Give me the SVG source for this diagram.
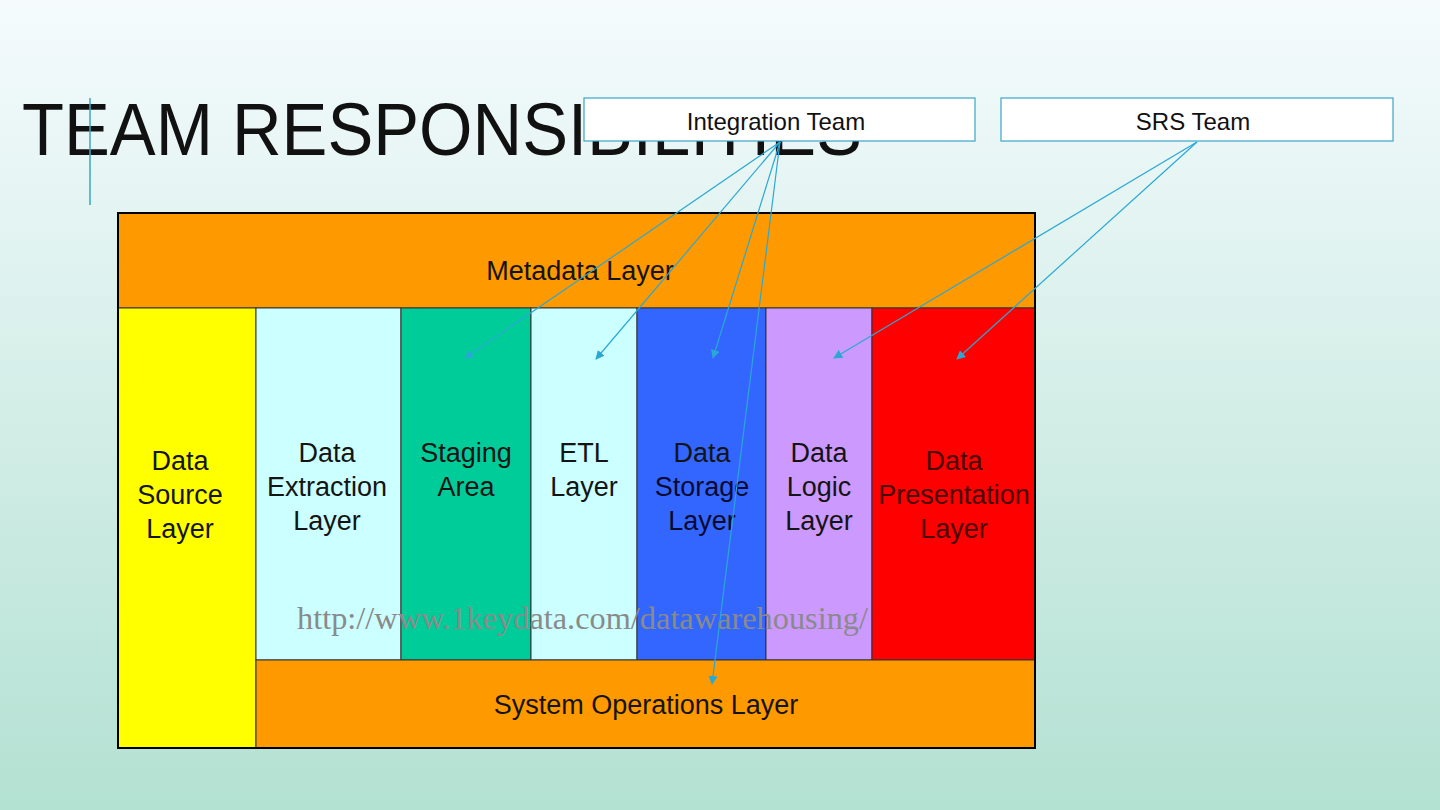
<svg xmlns="http://www.w3.org/2000/svg" width="1440" height="810" viewBox="0 0 1440 810">
<defs>
<linearGradient id="bg" x1="0" y1="0" x2="0" y2="1">
<stop offset="0" stop-color="#f5fbfd"/>
<stop offset="1" stop-color="#b3e1d2"/>
</linearGradient>
<marker id="ah" viewBox="0 0 10 10" refX="9" refY="5" markerWidth="9" markerHeight="9" markerUnits="userSpaceOnUse" orient="auto">
<path d="M0,0 L10,5 L0,10 z" fill="#2aa8d4"/>
</marker>
<style>
.lbl{font-family:"Liberation Sans",Arial,sans-serif;font-size:27px;fill:#141414;text-anchor:middle}
.col{stroke:#333;stroke-width:1}
.team{fill:#fff;stroke:#3aa6c8;stroke-width:1.2}
.tt{font-family:"Liberation Sans",Arial,sans-serif;font-size:24px;fill:#111;text-anchor:middle}
.conn{stroke:#2aa8d4;stroke-width:1.2;fill:none;marker-end:url(#ah)}
</style>
</defs>
<rect width="1440" height="810" fill="url(#bg)"/>
<text x="22" y="155" font-family="Liberation Sans, Arial, sans-serif" font-size="74" fill="#111" textLength="840" lengthAdjust="spacingAndGlyphs">TEAM RESPONSIBILITIES</text>
<line x1="90" y1="98" x2="90" y2="205" stroke="#3aa6c8" stroke-width="1.5"/>

<g id="diagram">
<g id="metadata"><rect x="118" y="213" width="917" height="95" fill="#ff9900" class="col"/><text class="lbl" x="580" y="280">Metadata Layer</text></g>
<g id="source"><rect x="118" y="308" width="138" height="440" fill="#ffff00" class="col"/><text class="lbl" x="180" y="470">Data</text><text class="lbl" x="180" y="504">Source</text><text class="lbl" x="180" y="538">Layer</text></g>
<g id="extraction"><rect x="256" y="308" width="145" height="352" fill="#ccffff" class="col"/><text class="lbl" x="327" y="462">Data</text><text class="lbl" x="327" y="496">Extraction</text><text class="lbl" x="327" y="530">Layer</text></g>
<g id="staging"><rect x="401" y="308" width="130" height="352" fill="#00cc99" class="col"/><text class="lbl" x="466" y="462">Staging</text><text class="lbl" x="466" y="496">Area</text></g>
<g id="etl"><rect x="531" y="308" width="106" height="352" fill="#ccffff" class="col"/><text class="lbl" x="584" y="462">ETL</text><text class="lbl" x="584" y="496">Layer</text></g>
<g id="storage"><rect x="637" y="308" width="129" height="352" fill="#3366ff" class="col"/><text class="lbl" x="702" y="462" fill="#0a0a30">Data</text><text class="lbl" x="702" y="496" style="fill:#0a0a30">Storage</text><text class="lbl" x="702" y="530" style="fill:#0a0a30">Layer</text></g>
<g id="logic"><rect x="766" y="308" width="106" height="352" fill="#cc99ff" class="col"/><text class="lbl" x="819" y="462">Data</text><text class="lbl" x="819" y="496">Logic</text><text class="lbl" x="819" y="530">Layer</text></g>
<g id="presentation"><rect x="872" y="308" width="163" height="352" fill="#ff0000" class="col"/><text class="lbl" x="954" y="470" style="fill:#4a0000">Data</text><text class="lbl" x="954" y="504" style="fill:#4a0000">Presentation</text><text class="lbl" x="954" y="538" style="fill:#4a0000">Layer</text></g>
<g id="sysops"><rect x="256" y="660" width="779" height="88" fill="#ff9900" class="col"/><text class="lbl" x="646" y="714">System Operations Layer</text></g>
<rect x="118" y="213" width="917" height="535" fill="none" stroke="#000" stroke-width="2"/>
<text x="297" y="629" font-family="Liberation Serif, 'Times New Roman', serif" font-size="32" fill="#8a8a8a" textLength="571" lengthAdjust="spacingAndGlyphs">http://www.1keydata.com/datawarehousing/</text>
</g>

<g id="integration-team"><rect class="team" x="584" y="98" width="391" height="43"/><text class="tt" x="776" y="130">Integration Team</text></g>
<g id="srs-team"><rect class="team" x="1001" y="98" width="392" height="43"/><text class="tt" x="1193" y="130">SRS Team</text></g>

<g id="connectors">
<line class="conn" x1="780" y1="142" x2="465" y2="358"/>
<line class="conn" x1="780" y1="142" x2="596" y2="359"/>
<line class="conn" x1="780" y1="142" x2="713" y2="358"/>
<line class="conn" x1="780" y1="142" x2="712" y2="684"/>
<line class="conn" x1="1197" y1="142" x2="834" y2="358"/>
<line class="conn" x1="1197" y1="142" x2="957" y2="359"/>
</g>
</svg>
